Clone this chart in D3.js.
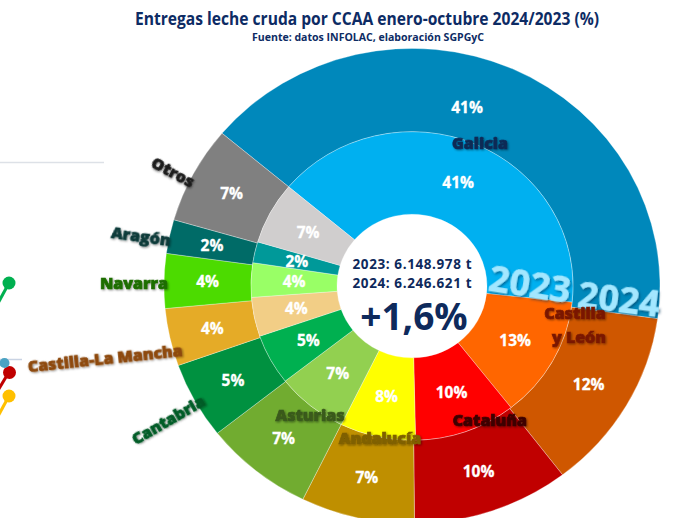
<!DOCTYPE html>
<html>
<head>
<meta charset="utf-8">
<script src="https://cdn.jsdelivr.net/npm/d3@7"></script>
<style>
  html, body { margin: 0; padding: 0; background: #ffffff; }
  svg { display: block; }
  text { font-family: "Open Sans", "DejaVu Sans", sans-serif; }
</style>
</head>
<body>
<svg id="chart" width="693" height="518"></svg>
<script>
// ---------------- data ----------------
const categories = ["Galicia", "Castilla y León", "Cataluña", "Andalucía", "Asturias",
  "Cantabria", "Castilla-La Mancha", "Navarra", "Aragón", "Otros"];
const values2024 = [41.0, 12.4, 10.2, 7.4, 7.1, 5.2, 3.9, 3.7, 2.3, 6.6];
const values2023 = [40.6, 12.8, 10.2, 7.6, 7.2, 5.3, 4.1, 3.6, 2.2, 6.5];
const ringLabels = ["2023", "2024"];
const totalLines = ["2023: 6.148.978 t", "2024: 6.246.621 t"];
const changeLabel = "+1,6%";
const titleText = "Entregas leche cruda por CCAA enero-octubre 2024/2023 (%)";
const subtitleText = "Fuente: datos INFOLAC, elaboración SGPGyC";

// ---------------- styles ----------------
const colors2024 = ["#0088BB", "#CF5700", "#C00000", "#BF8F00", "#71AC30",
  "#009140", "#E5AB27", "#4CDB00", "#006B67", "#808080"];
const colors2023 = ["#00B0F0", "#FF6600", "#FF0000", "#FFFF00", "#92D050",
  "#00B050", "#F2CE86", "#99FF66", "#009999", "#D0CECE"];
const nameColors = ["#0E2A55", "#7A1800", "#3D0000", "#7F6000", "#3A5A1B",
  "#005C28", "#8E4A0E", "#1F6E00", "#0B3B3A", "#1E1E1E"];
// name label layout: [angle deg, radius, rotation]
const nameLayout = [[24.5, 164, 0], [104, 168, 0], [150.9, 160, 0], [191.4, 162, 0],
  [217.1, 169, 0], [240.2, 281, -30], [256.2, 316, -6], [270.6, 278, 0],
  [280.9, 276, 8], [296.5, 267, 28]];

const W = 693, H = 518;
const cx = 412, cy = 286, ys = 0.958;
const r0 = 75, r1 = 161, r2 = 248;
const startDeg = -50;

const svg = d3.select("#chart");
const defs = svg.append("defs");
const f = defs.append("filter").attr("id", "sh").attr("x", "-20%").attr("y", "-40%")
  .attr("width", "140%").attr("height", "180%");
f.append("feDropShadow").attr("dx", 1).attr("dy", 1).attr("stdDeviation", 1)
  .attr("flood-color", "#000").attr("flood-opacity", 0.45);
const f2 = defs.append("filter").attr("id", "sh2").attr("x", "-20%").attr("y", "-40%")
  .attr("width", "140%").attr("height", "180%");
f2.append("feDropShadow").attr("dx", 1.5).attr("dy", 1.5).attr("stdDeviation", 1.2)
  .attr("flood-color", "#003355").attr("flood-opacity", 0.55);

// ---------------- left-edge remnants of neighbouring chart ----------------
const remn = svg.append("g");
remn.append("line").attr("x1", 0).attr("x2", 104).attr("y1", 162.5).attr("y2", 162.5)
  .attr("stroke", "#DDE1E7").attr("stroke-width", 1.5);
remn.append("line").attr("x1", 0).attr("x2", 22).attr("y1", 359.5).attr("y2", 359.5)
  .attr("stroke", "#C9D3E3").attr("stroke-width", 1.5);
remn.append("line").attr("x1", 9).attr("y1", 283).attr("x2", -3).attr("y2", 305)
  .attr("stroke", "#00B050").attr("stroke-width", 3);
remn.append("circle").attr("cx", 9).attr("cy", 283).attr("r", 6.5).attr("fill", "#00B050");
remn.append("line").attr("x1", 9).attr("y1", 372).attr("x2", -3).attr("y2", 392)
  .attr("stroke", "#C00000").attr("stroke-width", 3);
remn.append("line").attr("x1", 9).attr("y1", 396).attr("x2", -3).attr("y2", 418)
  .attr("stroke", "#FFC000").attr("stroke-width", 3);
remn.append("circle").attr("cx", 9.5).attr("cy", 372.5).attr("r", 6.5).attr("fill", "#C00000");
remn.append("circle").attr("cx", 4.5).attr("cy", 363).attr("r", 5).attr("fill", "#4BA3C3");
remn.append("circle").attr("cx", 9).attr("cy", 396).attr("r", 6.5).attr("fill", "#FFC000");

// ---------------- donut ----------------
const rad = d => d * Math.PI / 180;
const pie = d3.pie().sort(null).value(d => d)
  .startAngle(rad(startDeg)).endAngle(rad(startDeg + 360));
const arcsOuter = pie(values2024);
const arcsInner = pie(values2023);
const arcOuter = d3.arc().innerRadius(r1).outerRadius(r2);
const arcInner = d3.arc().innerRadius(r0).outerRadius(r1);

const g = svg.append("g").attr("transform", `translate(${cx},${cy}) scale(1,${ys})`);
g.selectAll("path.o").data(arcsOuter).join("path").attr("class", "o")
  .attr("d", arcOuter).attr("fill", (d, i) => colors2024[i])
  .attr("stroke", "rgba(255,255,255,0.45)").attr("stroke-width", 0.7);
g.selectAll("path.i").data(arcsInner).join("path").attr("class", "i")
  .attr("d", arcInner).attr("fill", (d, i) => colors2023[i])
  .attr("stroke", "rgba(255,255,255,0.45)").attr("stroke-width", 0.7);

const P = (angDeg, r) => [cx + r * Math.sin(rad(angDeg)), cy - r * Math.cos(rad(angDeg)) * ys];
const fmt = v => d3.format(".0f")(v) + "%";

const lab = svg.append("g");
function pctLabels(arcs, vals, rIn, rOut, cls, shiftFirst) {
  lab.selectAll("text." + cls).data(arcs).join("text").attr("class", cls)
    .attr("transform", (d, i) => {
      let a = (d.startAngle + d.endAngle) / 2 * 180 / Math.PI;
      if (shiftFirst && i === 0) a -= 7.5;
      const [x, y] = P(a, (rIn + rOut) / 2 + (shiftFirst && i === 0 ? -10 : 0));
      return `translate(${x},${y})`;
    })
    .attr("text-anchor", "middle").attr("dy", "0.36em")
    .attr("fill", "#ffffff").attr("font-weight", 700).attr("font-size", 15.5)
    .attr("stroke", "#ffffff").attr("stroke-width", 0.3)
    .text((d, i) => fmt(vals[i]));
}
pctLabels(arcsOuter, values2024, r1, r2, "po", true);
pctLabels(arcsInner, values2023, r0, r1, "pi", false);

// ring year labels
const yearLayout = [[530, 284, 9], [619, 299, 7]];
lab.selectAll("text.yr").data(ringLabels).join("text").attr("class", "yr")
  .attr("transform", (d, i) => `translate(${yearLayout[i][0]},${yearLayout[i][1]}) rotate(${yearLayout[i][2]})`)
  .attr("text-anchor", "middle").attr("dy", "0.36em")
  .attr("font-size", 36).attr("font-weight", 700).attr("fill", "#A3E7FF")
  .attr("stroke", "#A3E7FF").attr("stroke-width", 0.6)
  .attr("filter", "url(#sh2)")
  .text(d => d);

// category names
const names = lab.selectAll("g.nm").data(categories).join("g").attr("class", "nm")
  .attr("transform", (d, i) => {
    const [x, y] = P(nameLayout[i][0], nameLayout[i][1]);
    return `translate(${x},${y}) rotate(${nameLayout[i][2]})`;
  });
names.append("text")
  .attr("text-anchor", "middle").attr("font-size", 16).attr("font-weight", 800)
  .attr("fill", (d, i) => nameColors[i]).attr("stroke", (d, i) => nameColors[i])
  .attr("stroke-width", 0.7).attr("filter", "url(#sh)")
  .each(function (d) {
    const t = d3.select(this);
    if (d === "Castilla y León") {
      t.append("tspan").attr("x", 0).attr("dy", "-0.35em").text("Castilla");
      t.append("tspan").attr("x", 4).attr("dy", "1.5em").text("y León");
    } else {
      t.attr("dy", "0.36em").text(d);
    }
  });

// center text
lab.selectAll("text.tot").data(totalLines).join("text").attr("class", "tot")
  .attr("x", cx).attr("y", (d, i) => 268.5 + i * 19)
  .attr("text-anchor", "middle").attr("font-size", 13.5).attr("font-weight", 700)
  .attr("fill", "#0E2A5C").attr("textLength", 119).attr("lengthAdjust", "spacing")
  .text(d => d);
lab.append("text").attr("x", cx + 2).attr("y", 330)
  .attr("text-anchor", "middle").attr("font-size", 37).attr("font-weight", 700)
  .attr("fill", "#0E2A5C").text(changeLabel);

// titles
svg.append("text").attr("x", 367).attr("y", 25).attr("text-anchor", "middle")
  .attr("font-size", 17.5).attr("font-weight", 700).attr("fill", "#0D2B64")
  .attr("textLength", 464).attr("lengthAdjust", "spacingAndGlyphs")
  .text(titleText);
svg.append("text").attr("x", 368).attr("y", 40.5).attr("text-anchor", "middle")
  .attr("font-size", 10.5).attr("font-weight", 700).attr("fill", "#0D2B64")
  .attr("textLength", 232).attr("lengthAdjust", "spacingAndGlyphs")
  .text(subtitleText);
</script>
</body>
</html>
